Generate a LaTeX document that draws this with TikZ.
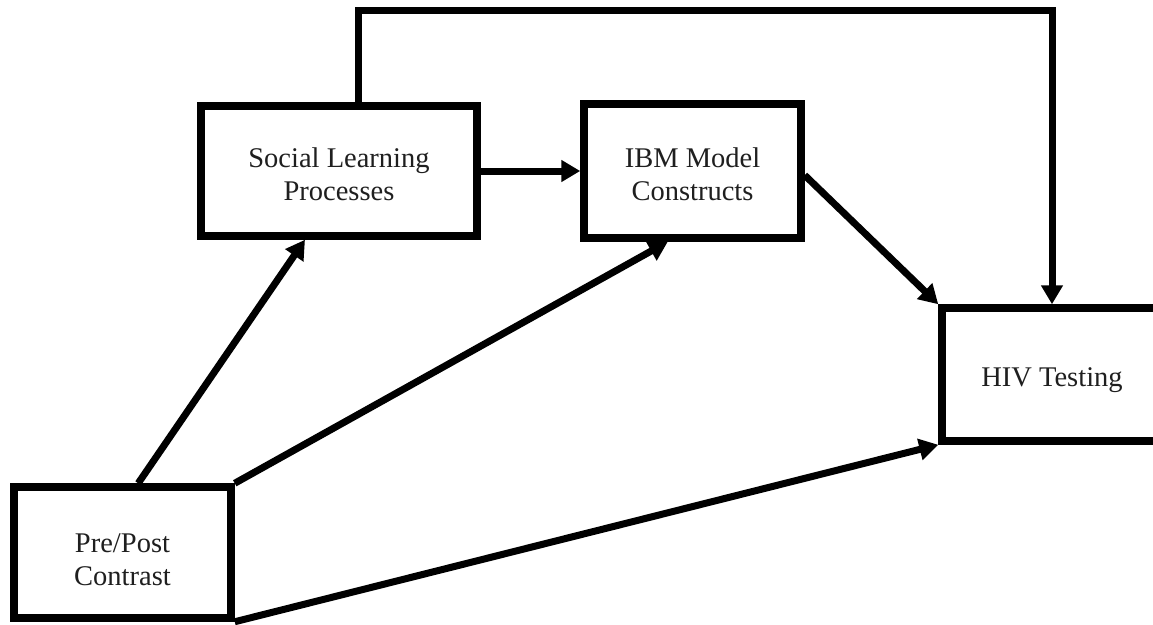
\documentclass[tikz,border=0pt]{standalone}
\usepackage{fontspec}
\setmainfont{Liberation Serif}
\usetikzlibrary{arrows.meta,calc}

\begin{document}
\begin{tikzpicture}[x=1pt,y=-1pt,
  box/.style={draw=black,line width=7.5pt,fill=white,inner sep=0pt},
  caption/.style={align=center,text=black!88,inner sep=0pt,
    font=\fontsize{28.5}{33}\selectfont},
  link/.style={line width=7pt,-{Triangle[length=19pt,width=21pt]}}
]
\useasboundingbox (0,0) rectangle (1153,624);
\begin{scope}
\clip (0,0) rectangle (1153,624);

% boxes, each with its centred caption
\node[box,minimum width=276pt,minimum height=130pt,
  label={[caption,yshift=-3pt]center:Social Learning\\Processes}] (soc) at (339,171) {};
\node[box,minimum width=217pt,minimum height=134pt,
  label={[caption,yshift=-3pt]center:IBM Model\\Constructs}] (ibm) at (692.5,171) {};
\node[box,minimum width=220pt,minimum height=133pt,
  label={[caption,yshift=-6pt]center:HIV Testing}] (hiv) at (1052,374.5) {};
\node[box,minimum width=217pt,minimum height=131pt,
  label={[caption,yshift=-7pt]center:Pre/Post\\Contrast}] (pre) at (122.5,552.5) {};

% attachment points along the box borders
\coordinate (preTop) at ($(pre.north west)!0.57!(pre.north east)$);
\coordinate (socBot) at ($(soc.south west)!0.38!(soc.south east)$);
\coordinate (ibmBot) at ($(ibm.south west)!0.39!(ibm.south east)$);
\coordinate (ibmOut) at ($(ibm.north east)!0.53!(ibm.south east)$);
\coordinate (socTop) at ($(soc.north west)!0.57!(soc.north east)$);
\coordinate (bend) at (1052,10);

% connectors
\draw[link] (preTop) -- (socBot);
\draw[link] (pre.north east) -- (ibmBot);
\draw[link] (pre.south east) -- (hiv.south west);
\draw[link] (soc.east) -- (ibm.west);
\draw[link] (ibmOut) -- (hiv.north west);
\draw[link] (socTop) |- (bend) -- (hiv.north);
\end{scope}
\end{tikzpicture}
\end{document}
